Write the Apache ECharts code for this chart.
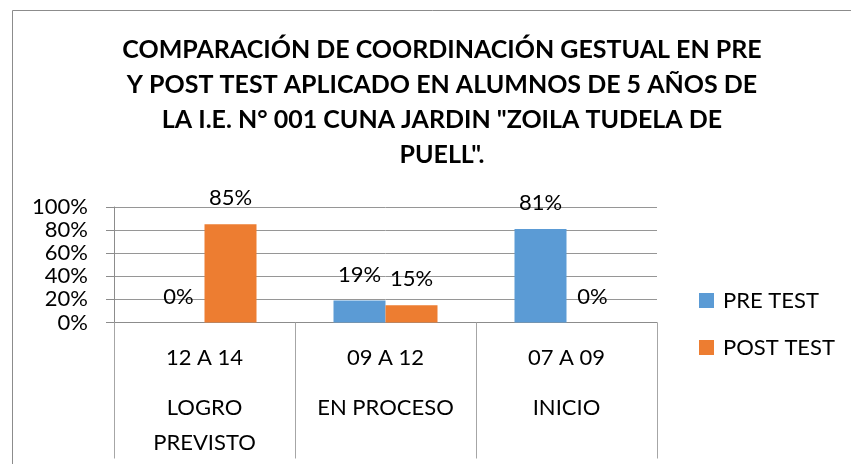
<!DOCTYPE html>
<html>
<head>
<meta charset="utf-8">
<script src="https://cdn.jsdelivr.net/npm/echarts@6/dist/echarts.min.js"></script>
<style>
html,body{margin:0;padding:0;background:#fff;}
#c{width:851px;height:464px;}
</style>
</head>
<body>
<div id="c"></div>
<script>
const titleText = 'COMPARACIÓN DE COORDINACIÓN GESTUAL EN PRE\nY POST TEST APLICADO EN ALUMNOS DE 5 AÑOS DE\nLA I.E. N° 001 CUNA JARDIN "ZOILA TUDELA DE\nPUELL".';
const ranges = ['12 A 14', '09 A 12', '07 A 09'];
const levels = ['LOGRO\nPREVISTO', 'EN PROCESO', 'INICIO'];
const seriesNames = ['PRE TEST', 'POST TEST'];
const preTest = [0, 0.19, 0.81];
const postTest = [0.85, 0.15, 0];
const yTicks = [0, 0.2, 0.4, 0.6, 0.8, 1.0];

const FONT = 'Lato, "Open Sans", sans-serif';
const chart = echarts.init(document.getElementById('c'), null, {renderer: 'canvas'});
const cats = ranges.map((r, i) => r + '|' + levels[i]);
const labelStyle = {
  show: true, position: 'top', distance: 15,
  fontFamily: FONT, fontSize: 22, color: '#000',
  formatter: p => Math.round(p.value * 100) + '%'
};
chart.setOption({
  animation: false,
  backgroundColor: '#fff',
  title: {
    text: titleText,
    left: 437, top: 27.5, textAlign: 'center',
    textStyle: {fontFamily: FONT, fontWeight: 'bold', fontSize: 25, lineHeight: 35, color: '#000'}
  },
  graphic: [{
    type: 'rect', shape: {x: 12.5, y: 10.5, width: 900, height: 500},
    style: {fill: 'none', stroke: '#8c8c8c', lineWidth: 1}, silent: true, z: -10
  }],
  legend: {
    orient: 'vertical', left: 694, top: 284.5,
    itemWidth: 15, itemHeight: 15, itemGap: 25, icon: 'rect',
    textStyle: {fontFamily: FONT, fontSize: 22, color: '#000', lineHeight: 22, padding: [0, 0, 0, 4]},
    data: seriesNames
  },
  grid: {left: 114, right: 194, top: 207, bottom: 141.5, containLabel: false},
  xAxis: {
    type: 'category', data: cats, boundaryGap: true,
    axisLine: {show: true, lineStyle: {color: '#8c8c8c', width: 1}},
    axisTick: {show: true, interval: 0, length: 136, lineStyle: {color: '#a6a6a6', width: 1}},
    axisLabel: {
      interval: 0, margin: 3,
      formatter: v => { const [a, b] = v.split('|'); return '{a|' + a + '}\n{b|' + b + '}'; },
      rich: {
        a: {fontFamily: FONT, fontSize: 22, lineHeight: 65, color: '#000'},
        b: {fontFamily: FONT, fontSize: 22, lineHeight: 35, color: '#000'}
      }
    }
  },
  yAxis: {
    type: 'value', min: 0, max: 1, interval: 0.2,
    axisLine: {show: true, lineStyle: {color: '#8c8c8c', width: 1}},
    axisTick: {show: true, length: 8, inside: false, lineStyle: {color: '#8c8c8c'}},
    splitLine: {show: true, lineStyle: {color: '#969696', width: 1}},
    axisLabel: {
      margin: 26, fontFamily: FONT, fontSize: 22, color: '#000',
      formatter: v => Math.round(v * 100) + '%'
    }
  },
  series: [
    {name: seriesNames[0], type: 'bar', data: preTest, barWidth: 52, barGap: '0%',
     itemStyle: {color: '#5B9BD5'}, label: labelStyle},
    {name: seriesNames[1], type: 'bar', data: postTest, barWidth: 52, barGap: '0%',
     itemStyle: {color: '#ED7D31'}, label: labelStyle}
  ]
});
</script>
</body>
</html>
